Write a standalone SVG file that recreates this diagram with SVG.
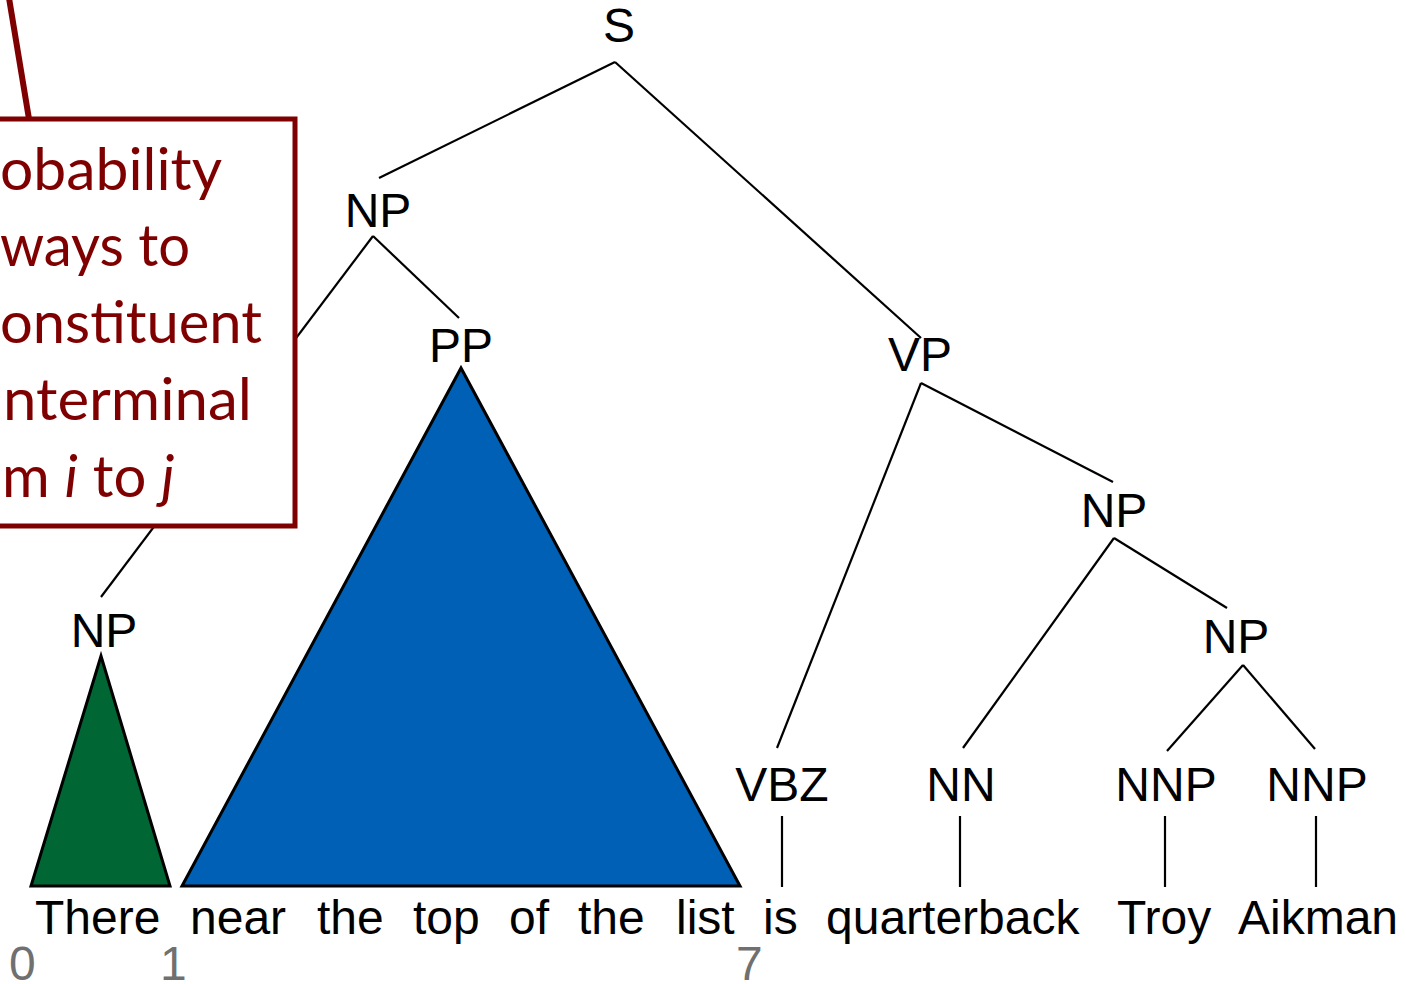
<svg xmlns="http://www.w3.org/2000/svg" width="1406" height="984" viewBox="0 0 1406 984">
  <style>
    .lbl { font-family: "Liberation Sans", Arial, sans-serif; font-size: 48px; fill: #000; text-anchor: middle; }
    .word { font-family: "Liberation Sans", Arial, sans-serif; font-size: 48px; fill: #000; }
    .idx { font-family: "Liberation Sans", Arial, sans-serif; font-size: 48px; fill: #707070; }
    .edge { stroke: #000; stroke-width: 2.2; fill: none; }
    .note { font-family: Lato, "Open Sans", sans-serif; font-size: 58px; fill: #7f0000; }
  </style>
  <rect width="1406" height="984" fill="#fff"/>

  <!-- tree edges -->
  <g id="connectors">
    <line class="edge" x1="615" y1="62" x2="379" y2="178"/>
    <line class="edge" x1="615" y1="62" x2="921" y2="338"/>
    <line class="edge" x1="373" y1="236" x2="101" y2="597"/>
    <line class="edge" x1="373" y1="236" x2="459" y2="318"/>
    <line class="edge" x1="921" y1="383" x2="777" y2="748"/>
    <line class="edge" x1="921" y1="383" x2="1113" y2="482"/>
    <line class="edge" x1="1114" y1="538" x2="963" y2="748"/>
    <line class="edge" x1="1114" y1="538" x2="1227" y2="608"/>
    <line class="edge" x1="1243" y1="665" x2="1167" y2="751"/>
    <line class="edge" x1="1243" y1="665" x2="1315" y2="749"/>
    <line class="edge" x1="782" y1="816" x2="782" y2="887"/>
    <line class="edge" x1="960" y1="816" x2="960" y2="887"/>
    <line class="edge" x1="1165" y1="816" x2="1165" y2="887"/>
    <line class="edge" x1="1316" y1="816" x2="1316" y2="887"/>
  </g>

  <!-- constituent triangles -->
  <g id="np-span">
    <polygon points="101,656 31,886 170,886" fill="#006633" stroke="#000" stroke-width="3" stroke-linejoin="miter"/>
  </g>
  <g id="pp-span">
    <polygon points="461,368 182,886 740,886" fill="#0060B5" stroke="#000" stroke-width="3"/>
  </g>

  <!-- nonterminal labels -->
  <g id="node-S"><text class="lbl" x="619" y="42">S</text></g>
  <g id="node-NP1"><text class="lbl" x="378" y="227">NP</text></g>
  <g id="node-PP"><text class="lbl" x="461" y="362">PP</text></g>
  <g id="node-VP"><text class="lbl" x="920" y="371">VP</text></g>
  <g id="node-NP2"><text class="lbl" x="1114" y="527">NP</text></g>
  <g id="node-NP3"><text class="lbl" x="1236" y="653">NP</text></g>
  <g id="node-NP0"><text class="lbl" x="104" y="647">NP</text></g>
  <g id="node-VBZ"><text class="lbl" x="782" y="801">VBZ</text></g>
  <g id="node-NN"><text class="lbl" x="961" y="801">NN</text></g>
  <g id="node-NNP1"><text class="lbl" x="1166" y="801">NNP</text></g>
  <g id="node-NNP2"><text class="lbl" x="1317" y="801">NNP</text></g>

  <!-- sentence -->
  <g id="sentence">
    <text class="word" x="35" y="934">There</text>
    <text class="word" x="190" y="934">near</text>
    <text class="word" x="317" y="934">the</text>
    <text class="word" x="413" y="934">top</text>
    <text class="word" x="509" y="934">of</text>
    <text class="word" x="578" y="934">the</text>
    <text class="word" x="676" y="934">list</text>
    <text class="word" x="763" y="934">is</text>
    <text class="word" x="826" y="934">quarterback</text>
    <text class="word" x="1117" y="934">Troy</text>
    <text class="word" x="1238" y="934">Aikman</text>
  </g>

  <!-- fencepost indices -->
  <g id="indices">
    <text class="idx" x="9" y="980">0</text>
    <text class="idx" x="160" y="980">1</text>
    <text class="idx" x="736" y="980">7</text>
  </g>

  <!-- callout -->
  <g id="callout">
    <line x1="9" y1="-2" x2="29" y2="119" stroke="#7f0000" stroke-width="6"/>
    <rect x="-40" y="119" width="335" height="407" fill="#fff" stroke="#7f0000" stroke-width="5"/>
    <text class="note" x="0" y="190" textLength="222" lengthAdjust="spacingAndGlyphs">obability</text>
    <text class="note" x="0" y="266" textLength="190" lengthAdjust="spacingAndGlyphs">ways to</text>
    <text class="note" x="0" y="343" textLength="262" lengthAdjust="spacingAndGlyphs">onstituent</text>
    <text class="note" x="3" y="420" textLength="249" lengthAdjust="spacingAndGlyphs">nterminal</text>
    <text class="note" x="2" y="497">m <tspan font-style="italic">i</tspan> to <tspan font-style="italic">j</tspan></text>
  </g>
</svg>
